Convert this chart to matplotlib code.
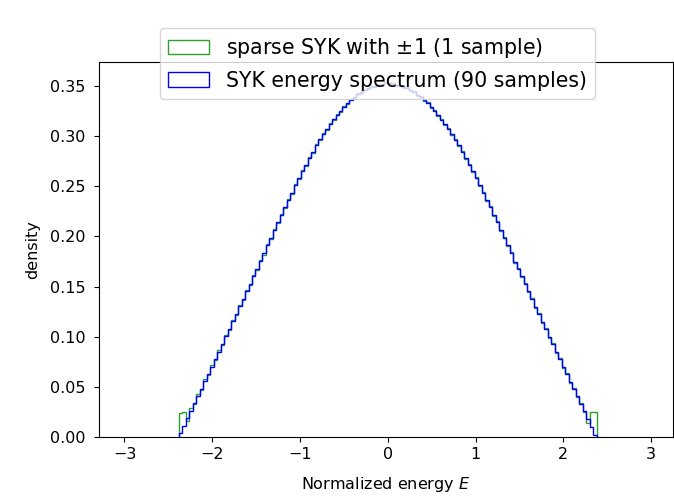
import numpy as np
import matplotlib
matplotlib.use("Agg")
import matplotlib.pyplot as plt

# bin edges of the energy histograms
bin_edges = np.linspace(-2.38, 2.38, 121)

# sparse SYK, one sample (bin heights)
sparse_density = [
    0.024, 0.025, 0.016, 0.029, 0.033, 0.043, 0.047, 0.058, 0.062, 0.072,
    0.077, 0.087, 0.092, 0.102, 0.107, 0.117, 0.122, 0.132, 0.137, 0.147,
    0.152, 0.162, 0.167, 0.177, 0.182, 0.192, 0.197, 0.207, 0.213, 0.222,
    0.228, 0.237, 0.242, 0.252, 0.257, 0.266, 0.270, 0.279, 0.283, 0.292,
    0.296, 0.303, 0.306, 0.313, 0.316, 0.322, 0.324, 0.330, 0.332, 0.337,
    0.338, 0.343, 0.343, 0.347, 0.347, 0.350, 0.349, 0.352, 0.351, 0.354,
    0.352, 0.353, 0.350, 0.351, 0.348, 0.349, 0.345, 0.345, 0.340, 0.340,
    0.335, 0.334, 0.328, 0.326, 0.320, 0.317, 0.311, 0.308, 0.301, 0.297,
    0.290, 0.285, 0.277, 0.272, 0.264, 0.259, 0.250, 0.244, 0.235, 0.230,
    0.220, 0.215, 0.205, 0.199, 0.190, 0.184, 0.174, 0.169, 0.160, 0.154,
    0.145, 0.139, 0.129, 0.124, 0.114, 0.109, 0.099, 0.094, 0.084, 0.079,
    0.069, 0.064, 0.054, 0.049, 0.040, 0.034, 0.025, 0.014, 0.025, 0.025,
]

# full SYK, 90 samples
syk_density = [
    0.004, 0.011, 0.019, 0.026, 0.034, 0.041, 0.048, 0.056, 0.063, 0.070,
    0.078, 0.085, 0.093, 0.101, 0.108, 0.116, 0.123, 0.131, 0.138, 0.146,
    0.153, 0.161, 0.168, 0.176, 0.183, 0.191, 0.198, 0.206, 0.214, 0.221,
    0.229, 0.236, 0.243, 0.251, 0.258, 0.265, 0.271, 0.278, 0.284, 0.291,
    0.297, 0.302, 0.307, 0.312, 0.317, 0.321, 0.325, 0.329, 0.333, 0.336,
    0.339, 0.342, 0.344, 0.346, 0.348, 0.349, 0.350, 0.351, 0.352, 0.353,
    0.353, 0.352, 0.351, 0.350, 0.349, 0.348, 0.346, 0.344, 0.341, 0.339,
    0.336, 0.333, 0.329, 0.325, 0.321, 0.316, 0.312, 0.307, 0.302, 0.296,
    0.291, 0.284, 0.278, 0.271, 0.265, 0.258, 0.251, 0.243, 0.236, 0.229,
    0.221, 0.214, 0.206, 0.198, 0.191, 0.183, 0.175, 0.168, 0.161, 0.153,
    0.146, 0.138, 0.130, 0.123, 0.115, 0.108, 0.100, 0.093, 0.085, 0.078,
    0.070, 0.063, 0.055, 0.048, 0.041, 0.033, 0.026, 0.018, 0.010, 0.002,
]

labels = ["sparse SYK with $\\pm1$ (1 sample)", "SYK energy spectrum (90 samples)"]

centers = 0.5 * (bin_edges[:-1] + bin_edges[1:])

fig = plt.figure(figsize=(6.74, 4.96), dpi=100)
ax = fig.add_axes([0.1469, 0.119, 0.8516, 0.756])

ax.hist(centers, bins=bin_edges, weights=sparse_density, histtype="step",
        color="tab:green", label=labels[0])
ax.hist(centers, bins=bin_edges, weights=syk_density, histtype="step",
        color="b", label=labels[1])

ax.set_xlim(-3.29, 3.25)
ax.set_ylim(0, 0.374)
ax.tick_params(labelsize=11.5)
ax.tick_params(axis="y", pad=6)
ax.set_xlabel("Normalized energy $E$", fontsize=11.5, labelpad=9.5)
ax.set_ylabel("density", fontsize=11.5, labelpad=7.5)
ax.legend(loc="upper center", bbox_to_anchor=(0.485, 1.118), fontsize=14.8)

fig.savefig("out.png", dpi=100)
